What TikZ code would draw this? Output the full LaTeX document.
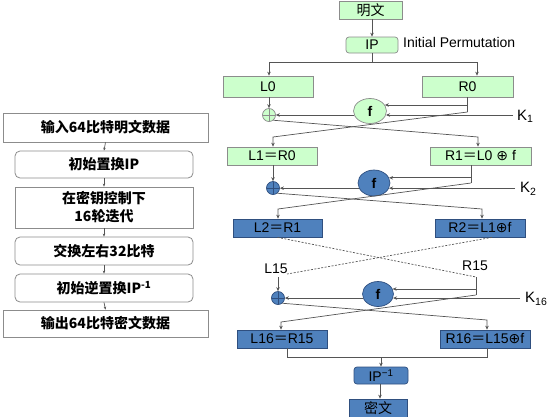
\documentclass[tikz,border=0pt]{standalone}
\usepackage{fontspec}
\setmainfont{Liberation Sans}
\newfontfamily\cjk{Noto Sans CJK SC}
\newfontfamily\djv{DejaVu Sans}
\usetikzlibrary{shapes.geometric,arrows.meta}
\definecolor{gfill}{HTML}{CCFFCC}
\definecolor{gdraw}{HTML}{8C8C8C}
\definecolor{bfill}{HTML}{4F81BD}
\definecolor{bdraw}{HTML}{2F4F7F}
\definecolor{lnc}{HTML}{555555}
\newcommand{\eq}{{\cjk ＝}}
\newcommand{\xor}{{\djv ⊕}}
\begin{document}
\begin{tikzpicture}[x=1pt,y=-1pt,
  every node/.style={font=\fontsize{14}{16}\selectfont, inner sep=0pt},
  lnk/.style={draw=lnc, line width=0.7pt},
  arr/.style={draw=lnc, line width=0.7pt, -{Stealth[length=4pt,width=3.5pt]}},
  dsh/.style={draw=lnc, line width=0.7pt, dash pattern=on 2pt off 1.5pt},
  gbox/.style={draw=gdraw, fill=gfill, line width=0.7pt},
  bbox/.style={draw=bdraw, fill=bfill, line width=0.7pt},
  lbox/.style={draw=gdraw, fill=white, line width=0.8pt, minimum width=205, font=\cjk\bfseries\fontsize{14}{18}\selectfont, align=center},
  lrbox/.style={lbox, minimum width=178, rounded corners=5pt},
  fell/.style={ellipse, line width=0.7pt, font=\bfseries\fontsize{14}{16}\selectfont},
  xo/.style={circle, line width=0.7pt, minimum size=13, path picture={
     \draw[line width=0.7pt] (path picture bounding box.north) -- (path picture bounding box.south)
       (path picture bounding box.west) -- (path picture bounding box.east);}},
  klab/.style={anchor=west, font=\fontsize{15}{17}\selectfont}
]
\useasboundingbox (0,0) rectangle (547,416);

% ---------- left flowchart ----------
\node[lbox, minimum height=29] (b1) at (105.5,127.5) {输入64比特明文数据};
\node[lrbox, minimum height=27] (b2) at (104,164.5) {初始置换IP};
\node[lbox, minimum width=178, minimum height=41] (b3) at (104,207.5) {在密钥控制下\\16轮迭代};
\node[lrbox, minimum height=28] (b4) at (104,251) {交换左右32比特};
\node[lrbox, minimum height=28] (b5) at (104,288) {初始逆置换IP\textsuperscript{-1}};
\node[lbox, minimum height=27] (b6) at (105.5,323.5) {输出64比特密文数据};
\foreach \a/\b in {b1/b2,b2/b3,b3/b4,b4/b5,b5/b6}
  \draw[arr, -{Stealth[length=3pt,width=2.5pt]}] (\a.south) -- (\b.north);

% ---------- right: top ----------
\node[gbox, minimum width=63, minimum height=18, font=\cjk\fontsize{14}{16}\selectfont] (mw) at (370.5,10) {明文};
\node[gbox, rounded corners=3pt, minimum width=52, minimum height=16] (ip) at (372,45) {IP};
\node[anchor=west] (iplab) at (403,42) {Initial Permutation};
\draw[arr] (mw.south -| ip.north) -- (ip.north);

\node[gbox, minimum width=90, minimum height=21] (L0) at (268,86.5) {L0};
\node[gbox, minimum width=91, minimum height=21] (R0) at (467.5,86.5) {R0};
\coordinate (sp) at (372,62);
\coordinate (spl) at (269,62);
\coordinate (spr) at (477,62);
\draw[lnk] (ip.south) -- (sp);
\draw[arr] (sp) -- (spl) -- (spl |- L0.north);
\draw[arr] (sp) -- (spr) -- (spr |- R0.north);

% ---------- round 1 ----------
\node[xo, draw=gdraw, fill=gfill] (x1) at (269,115) {};
\node[fell, draw=gdraw, fill=gfill, minimum width=33, minimum height=25] (f1) at (370,111) {f};
\coordinate (k1) at (513,115);
\node[klab] (k1l) at (517,116) {K\textsubscript{1}};
\coordinate (r0b) at (467.5,112);
\draw[arr] (L0.south -| x1) -- (x1.north);
\draw[lnk] (R0.south) -- (r0b);
\draw[arr] (R0.south |- f1.22) -- (f1.22);
\draw[arr] (f1.-14 -| k1) -- (f1.-14);
\draw[arr] (f1.194) -- (f1.194 -| x1.east);

\node[gbox, minimum width=90, minimum height=18] (L1) at (272,156) {L1\eq R0};
\node[gbox, minimum width=101, minimum height=18] (R1) at (480.5,156) {R1\eq L0 \xor\ f};
\coordinate (c1a) at (478,137);
\coordinate (c1b) at (273,137);
\draw[arr] (x1.-50) -- (c1a) -- (c1a |- R1.north);
\draw[arr] (r0b) -- (c1b) -- (c1b |- L1.north);

% ---------- round 2 ----------
\node[xo, draw=bdraw, fill=bfill] (x2) at (273,188) {};
\node[fell, draw=bdraw, fill=bfill, minimum width=32, minimum height=26] (f2) at (374,183) {f};
\coordinate (k2) at (515,188);
\node[klab] (k2l) at (520,189) {K\textsubscript{2}};
\coordinate (r1b) at (471,183);
\draw[arr] (L1.south -| x2) -- (x2.north);
\draw[lnk] (r1b |- R1.south) -- (r1b);
\draw[arr] (r1b |- f2.19) -- (f2.19);
\draw[arr] (f2.-19 -| k2) -- (f2.-19);
\draw[arr] (f2.199) -- (f2.199 -| x2.east);

\node[bbox, minimum width=89, minimum height=18] (L2) at (277.5,228) {L2\eq R1};
\node[bbox, minimum width=90, minimum height=18] (R2) at (480,228) {R2\eq L1\xor f};
\coordinate (c2a) at (482,209);
\coordinate (c2b) at (278,209);
\draw[arr] (x2.-50) -- (c2a) -- (c2a |- R2.north);
\draw[arr] (r1b) -- (c2b) -- (c2b |- L2.north);

% ---------- dashed skip ----------
\node (l15) at (276,269) {L15};
\node (r15) at (475,266) {R15};
\coordinate (r15c) at (476,277);
\coordinate (l15c) at (287,274);
\draw[dsh] (L2.south) -- (r15c);
\draw[dsh] ([xshift=12pt]R2.south) -- (l15c);

% ---------- round 16 ----------
\node[xo, draw=bdraw, fill=bfill] (x3) at (278,298) {};
\node[fell, draw=bdraw, fill=bfill, minimum width=31, minimum height=25] (f3) at (378,294) {f};
\coordinate (k3) at (520,298);
\node[klab] (k3l) at (525,299) {K\textsubscript{16}};
\coordinate (l15a) at (278,277);
\coordinate (r15b) at (476,295);
\draw[arr] (l15a) -- (x3.north);
\draw[lnk] (r15c) -- (r15b);
\draw[arr] (r15b |- f3.19) -- (f3.19);
\draw[arr] (f3.-15 -| k3) -- (f3.-15);
\draw[arr] (f3.195) -- (f3.195 -| x3.east);

\node[bbox, minimum width=90, minimum height=18] (L16) at (282,339) {L16\eq R15};
\node[bbox, minimum width=90, minimum height=18] (R16) at (485,339) {R16\eq L15\xor f};
\coordinate (c3a) at (487,320);
\coordinate (c3b) at (281,322);
\draw[arr] (x3.-50) -- (c3a) -- (c3a |- R16.north);
\draw[arr] (r15b) -- (c3b) -- (c3b |- L16.north);

% ---------- output ----------
\node[bbox, rounded corners=3pt, minimum width=54, minimum height=17] (ipi) at (381,375.5) {IP\textsuperscript{−1}};
\node[bbox, minimum width=58, minimum height=18, font=\cjk\fontsize{14}{16}\selectfont] (cw) at (378,408) {密文};
\coordinate (m1) at (287,357);
\coordinate (m2) at (487,357);
\draw[lnk] (m1 |- L16.south) -- (m1) -- (m2) -- (m2 |- R16.south);
\draw[arr] (ipi.north |- m1) -- (ipi.north);
\draw[arr] (ipi.south -| 380,0) -- (cw.north -| 380,0);
\end{tikzpicture}
\end{document}
